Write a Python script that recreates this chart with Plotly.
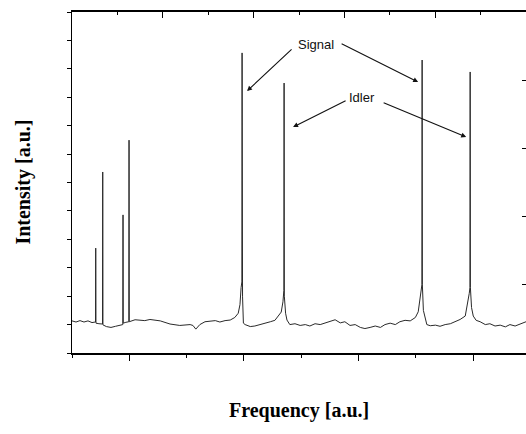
import plotly.graph_objects as go

# Spectrum trace (frequency in a.u., intensity in a.u.)
freq = [
    0.000, 0.070, 0.140, 0.209, 0.279, 0.349, 0.405,
    0.410, 0.414, 0.418, 0.470, 0.525,
    0.532, 0.536, 0.540, 0.600, 0.680, 0.760, 0.840, 0.880,
    0.886, 0.890, 0.894, 0.940, 0.985,
    0.991, 0.995, 0.999,
    1.10, 1.27, 1.36, 1.45, 1.54, 1.71, 1.88, 2.06, 2.11, 2.16, 2.23, 2.32,
    2.41, 2.50, 2.58, 2.67, 2.76, 2.84, 2.90, 2.93, 2.95,
    2.963, 2.967, 2.971, 2.975, 2.99,
    3.02, 3.11, 3.19, 3.28, 3.37, 3.46, 3.54, 3.59, 3.65, 3.68,
    3.696, 3.700, 3.704, 3.726, 3.75,
    3.80, 3.89, 3.98, 4.07, 4.15, 4.24, 4.33, 4.42, 4.50, 4.59, 4.68, 4.76,
    4.85, 4.94, 5.03, 5.11, 5.20, 5.29, 5.38, 5.46, 5.55, 5.64, 5.72, 5.81,
    5.90, 5.99, 6.04, 6.07,
    6.104, 6.108, 6.112, 6.13, 6.16, 6.19,
    6.25, 6.34, 6.42, 6.51, 6.60, 6.68, 6.77, 6.86, 6.89, 6.93,
    6.942, 6.946, 6.950, 6.97, 7.00,
    7.05, 7.12, 7.21, 7.29, 7.38, 7.47, 7.56, 7.64, 7.73, 7.82, 7.92,
]
intensity = [
    1.13, 1.09, 1.14, 1.09, 1.13, 1.07, 1.09,
    1.09, 3.69, 1.05, 1.03, 1.02,
    1.02, 6.37, 0.99, 0.93, 0.90, 0.94, 0.97, 1.00,
    1.00, 4.86, 1.05, 1.08, 1.10,
    1.10, 7.49, 1.10,
    1.17, 1.14, 1.18, 1.16, 1.13, 1.02, 0.97, 1.00, 0.97, 0.84, 1.00, 1.10,
    1.12, 1.14, 1.09, 1.14, 1.16, 1.25, 1.40, 1.70, 2.30,
    2.50, 10.56, 2.50, 2.00, 1.05,
    1.00, 0.93, 0.95, 1.00, 1.04, 1.10, 1.15, 1.27, 1.44, 1.80,
    2.20, 9.50, 2.00, 1.40, 1.16,
    1.00, 1.03, 0.97, 1.00, 0.95, 1.03, 1.00, 1.06, 1.10, 1.17, 1.06, 1.10,
    0.97, 1.00, 0.90, 0.86, 0.90, 0.95, 0.90, 1.00, 1.05, 1.00, 1.10, 1.15,
    1.13, 1.25, 1.45, 1.85,
    2.40, 10.31, 2.40, 1.50, 1.20, 1.00,
    0.96, 0.98, 0.94, 1.00, 1.03, 1.10, 1.18, 1.30, 1.60, 2.10,
    2.30, 9.89, 2.30, 1.60, 1.30,
    1.15, 1.10, 1.00, 1.03, 0.95, 0.98, 0.92, 1.00, 0.95, 1.02, 1.10,
]

# Labels and arrows
label_texts = ["Signal", "Idler"]
label_x = [4.258, 5.061]
label_y = [10.87, 9.008]

arrow_label = ["Signal", "Signal", "Idler", "Idler"]
arrow_tip_x = [3.054, 6.038, 3.857, 6.876]
arrow_tip_y = [9.22, 9.535, 7.952, 7.60]
arrow_dx = [46, -78, 54, -84]
arrow_dy = [-43, -39, -27, -35]

x_title = "Frequency [a.u.]"
y_title = "Intensity [a.u.]"

fig = go.Figure()
fig.add_trace(go.Scatter(x=freq, y=intensity, mode="lines",
                         line=dict(color="#2a2a2a", width=1),
                         hoverinfo="skip", showlegend=False))
# invisible trace to materialise the top/right frame axes
fig.add_trace(go.Scatter(x=[0], y=[0], xaxis="x2", yaxis="y2", mode="markers",
                         marker=dict(opacity=0), hoverinfo="skip", showlegend=False))

for t, x, y in zip(label_texts, label_x, label_y):
    fig.add_annotation(x=x, y=y, xref="x", yref="y", text=t, showarrow=False,
                       xanchor="center", yanchor="middle",
                       font=dict(family="Liberation Sans", size=13, color="#111"))

for tx, ty, dx, dy in zip(arrow_tip_x, arrow_tip_y, arrow_dx, arrow_dy):
    fig.add_annotation(x=tx, y=ty, xref="x", yref="y", ax=dx, ay=dy, text="",
                       showarrow=True, arrowhead=2, arrowsize=0.9, arrowwidth=1.1,
                       arrowcolor="#111")

fig.add_annotation(x=0.500, y=-0.17, xref="paper", yref="paper", text=f"<b>{x_title}</b>",
                   showarrow=False, xanchor="center", yanchor="middle",
                   font=dict(family="Liberation Serif", size=20, color="#000"))
fig.add_annotation(x=-0.107, y=0.501, xref="paper", yref="paper", text=f"<b>{y_title}</b>",
                   showarrow=False, textangle=-90, xanchor="center", yanchor="middle",
                   font=dict(family="Liberation Serif", size=20, color="#000"))

fig.update_layout(
    width=526, height=434,
    margin=dict(l=72, r=0, t=12, b=81),
    paper_bgcolor="white", plot_bgcolor="white",
    xaxis=dict(range=[0, 7.92], showgrid=False, zeroline=False, showticklabels=False,
               showline=True, linecolor="#000", linewidth=1.5,
               ticks="outside", tick0=1, dtick=2, ticklen=6, tickcolor="#000", tickwidth=1.2,
               minor=dict(ticks="outside", dtick=1, tick0=0, ticklen=3, tickcolor="#000")),
    yaxis=dict(range=[0, 12], showgrid=False, zeroline=False, showticklabels=False,
               showline=True, linecolor="#000", linewidth=1.2,
               ticks="outside", dtick=1, ticklen=4, tickcolor="#000", tickwidth=1.2),
    xaxis2=dict(range=[0, 10], overlaying="x", side="top", showgrid=False, zeroline=False,
                showticklabels=False, showline=True, linecolor="#000", linewidth=1.5,
                ticks="inside", tick0=0, dtick=2, ticklen=6, tickcolor="#000", tickwidth=1.2,
                minor=dict(ticks="inside", dtick=1, tick0=0, ticklen=3, tickcolor="#000")),
    yaxis2=dict(range=[0, 5], overlaying="y", side="right", showgrid=False, zeroline=False,
                showticklabels=False, showline=False,
                ticks="inside", dtick=1, ticklen=4, tickcolor="#000", tickwidth=1.2),
)

fig.write_html("out.html", config={"displayModeBar": False},
               post_script="document.body.style.margin='0';document.body.style.overflow='hidden';")
